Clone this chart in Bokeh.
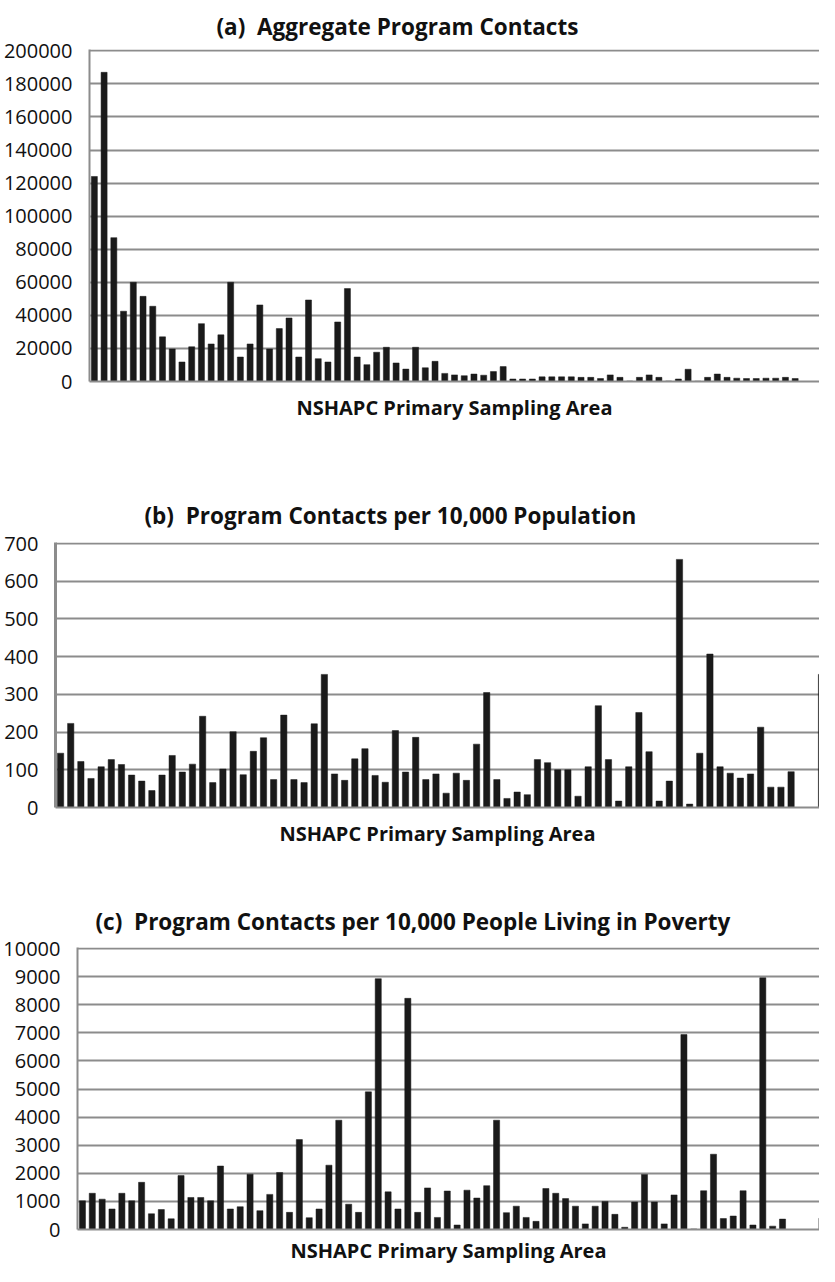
from bokeh.plotting import figure
from bokeh.models import Range1d, FixedTicker, ColumnDataSource
from bokeh.embed import file_html
from bokeh.resources import INLINE

# ---------------- data ----------------
psa = list(range(1, 77))

contacts = [124000, 187000, 87000, 42500, 60000, 51500, 45500, 27000, 19700, 11800,
            21000, 35000, 22700, 28200, 60000, 14800, 22700, 46300, 19700, 32000,
            38400, 14800, 49300, 13800, 11800, 36000, 56200, 14800, 10200, 17700,
            20700, 11200, 7500, 20700, 8300, 12200, 4900, 4000, 3500, 4500,
            3800, 6000, 9000, 1500, 1500, 1500, 2800, 2800, 2800, 2800,
            2500, 2500, 1800, 4000, 2500, 300, 2500, 4000, 2500, 300,
            1500, 7400, 200, 2500, 4500, 2500, 2000, 1800, 1800, 2000,
            2000, 2500, 1800, 0, 0, 3000]

per_pop = [144, 223, 122, 77, 108, 127, 114, 86, 70, 45,
           86, 138, 94, 115, 242, 66, 102, 201, 87, 149,
           185, 74, 245, 74, 66, 222, 353, 89, 72, 129,
           156, 85, 67, 204, 94, 186, 74, 89, 38, 91,
           72, 168, 305, 74, 24, 41, 34, 127, 119, 100,
           100, 30, 108, 270, 127, 17, 108, 252, 148, 17,
           70, 658, 9, 144, 407, 108, 91, 78, 89, 213,
           54, 54, 95, 0, 0, 353]

per_pov = [1020, 1290, 1080, 730, 1290, 1020, 1680, 560, 710, 380,
           1920, 1140, 1140, 1020, 2260, 730, 810, 1970, 670, 1250,
           2030, 610, 3200, 420, 730, 2290, 3890, 900, 610, 4900,
           8930, 1340, 730, 8230, 610, 1480, 430, 1370, 160, 1400,
           1120, 1560, 3890, 600, 830, 430, 290, 1460, 1290, 1100,
           830, 200, 830, 1000, 540, 80, 980, 1960, 980, 200,
           1230, 6940, 20, 1380, 2680, 390, 480, 1380, 160, 8960,
           120, 370, 0, 0, 0, 400]

ticks_a = [0, 20000, 40000, 60000, 80000, 100000, 120000, 140000, 160000, 180000, 200000]
ticks_b = [0, 100, 200, 300, 400, 500, 600, 700]
ticks_c = [0, 1000, 2000, 3000, 4000, 5000, 6000, 7000, 8000, 9000, 10000]

NB = "\u00a0\u00a0"
title_a = "(a)" + NB + "Aggregate Program Contacts"
title_b = "(b)" + NB + "Program Contacts per 10,000 Population"
title_c = "(c)" + NB + "Program Contacts per 10,000 People Living in Poverty"
x_label = "NSHAPC Primary Sampling Area"

FONT = "Open Sans"
GRID = "#8c8c8c"
BAR = "#1a1a1a"


def panel(values, ticks, title, height, b_left, b_top, b_bottom, x_end,
          title_offset, title_standoff, axis_width, label_standoff):
    src = ColumnDataSource(dict(x=psa, y=values))
    p = figure(width=819, height=height, output_backend="svg", toolbar_location=None,
               x_range=Range1d(0.5, x_end), y_range=Range1d(0, ticks[-1] * 1.004),
               min_border_left=b_left, min_border_right=0,
               min_border_top=b_top, min_border_bottom=b_bottom,
               title=title, background_fill_color="white",
               border_fill_color="white", outline_line_color=None)
    p.vbar(x="x", top="y", width=0.62, source=src, fill_color=BAR,
           line_color=BAR, line_width=0.5)

    p.title.text_font = FONT
    p.title.text_font_size = "22.5px"
    p.title.text_font_style = "bold"
    p.title.text_color = "#111111"
    p.title.align = "left"
    p.title.offset = title_offset
    p.title.standoff = title_standoff

    p.xgrid.grid_line_color = None
    p.ygrid.grid_line_color = GRID
    p.ygrid.grid_line_width = 2
    p.ygrid.ticker = FixedTicker(ticks=ticks)

    p.yaxis.ticker = FixedTicker(ticks=ticks)
    p.yaxis.major_label_overrides = {t: str(t) for t in ticks}
    p.yaxis.major_label_text_font = FONT
    p.yaxis.major_label_text_font_size = "20px"
    p.yaxis.major_label_text_color = "#111111"
    p.yaxis.major_tick_line_color = None
    p.yaxis.minor_tick_line_color = None
    p.yaxis.major_label_standoff = 11
    p.yaxis.axis_line_color = GRID
    p.yaxis.axis_line_width = axis_width

    p.xaxis.ticker = FixedTicker(ticks=[])
    p.xaxis.major_tick_line_color = None
    p.xaxis.minor_tick_line_color = None
    p.xaxis.major_label_text_font_size = "0px"
    p.xaxis.axis_line_color = GRID
    p.xaxis.axis_line_width = 2
    p.xaxis.axis_label = x_label
    p.xaxis.axis_label_text_font = FONT
    p.xaxis.axis_label_text_font_size = "20px"
    p.xaxis.axis_label_text_font_style = "bold"
    p.xaxis.axis_label_text_color = "#111111"
    p.xaxis.axis_label_standoff = label_standoff
    return p


pa = panel(contacts, ticks_a, title_a, 452, 86, 44, 71, 75.5, 127, 16, 2, 12)
pb = panel(per_pop, ticks_b, title_b, 420, 55, 90, 65, 75.8, 89, 24, 3, 12)
pc = panel(per_pov, ticks_c, title_c, 394, 74, 75, 31, 75.75, 18, 22, 2, 7)

open("out.html", "w").write(file_html([pa, pb, pc], INLINE))
